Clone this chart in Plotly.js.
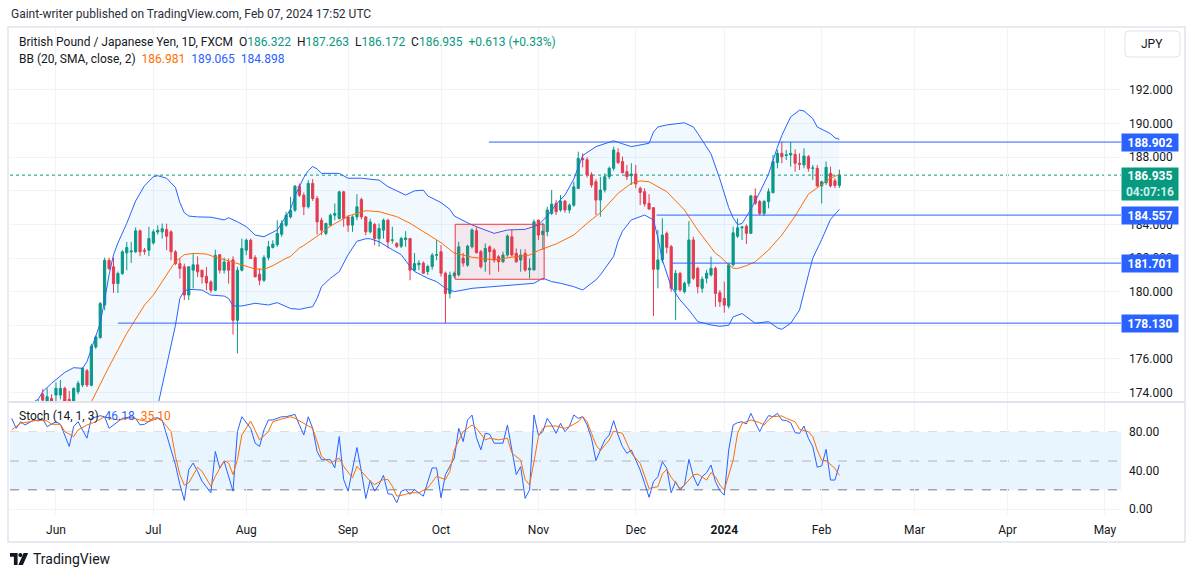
<!DOCTYPE html>
<html>
<head>
<meta charset="utf-8">
<script src="https://cdn.plot.ly/plotly-3.0.1.min.js"></script>
<style>
html,body{margin:0;padding:0;background:#ffffff;}
#chart{width:1195px;height:577px;}
</style>
</head>
<body>
<div id="chart"></div>
<script>
// ---------------- DATA ----------------
const firstBarDate = '2023-05-18';
const holidays = ['2023-12-25', '2024-01-01'];

const open = [
171.9,172.2,171.9,172.1,172.5,172.3,172.9,173.9,173.3,173.64,
173.85,173.85,174.25,173.6,173.5,174.05,174.45,175.3,174.43,176.71,
177.27,179.21,181.87,181.48,180.48,181.08,182.31,182.37,182.37,183.62,
182.47,182.47,182.9,183.55,183.56,183.7,183.56,182.37,181.67,181.48,
179.8,181.28,181.6,181.28,180.92,180.58,180.09,182.2,181.28,181.77,
181.9,178.3,181.28,182.47,183.06,182.03,181.04,180.68,182.03,182.63,
182.8,183.42,183.96,184.45,184.85,186.28,185.74,185.05,186.44,185.54,
184.25,183.46,183.96,184.55,184.35,185.94,184.45,183.96,184.45,185.48,
184.45,183.56,184.0,183.16,183.66,184.25,183.06,182.87,182.7,183.1,
183.16,181.28,181.6,181.7,181.2,181.5,182.17,182.38,181.1,179.9,
180.95,181.0,182.0,181.58,182.67,183.63,182.38,181.78,182.67,182.48,
182.08,181.78,182.18,183.27,182.28,181.88,182.28,181.3,181.29,184.26,
183.4,183.57,184.66,185.25,184.86,185.39,184.86,185.15,186.14,187.93,
187.85,186.96,186.54,185.45,186.05,186.84,187.34,188.27,187.74,187.14,
186.9,187.0,186.15,185.95,185.26,185.0,181.33,181.89,183.47,182.68,
180.1,181.09,180.0,180.5,183.08,181.39,180.2,180.8,181.0,181.39,
179.94,179.6,179.15,181.6,183.3,183.8,183.9,183.47,185.7,185.36,
184.66,185.36,185.89,187.68,188.23,188.1,188.13,188.17,187.64,187.54,
188.03,187.34,187.34,186.29,186.48,187.04,186.6,186.322];

const high = [
172.4,172.5,172.3,172.7,172.9,173.1,173.6,174.2,174.26,173.9,
174.6,174.75,174.35,174.1,174.3,174.7,175.5,175.4,176.9,177.4,
179.39,182.03,182.03,182.03,181.2,182.47,182.96,182.96,183.82,183.7,
182.6,183.86,183.7,183.95,184.05,184.05,183.66,182.47,181.97,181.67,
181.5,182.27,182.1,181.3,181.48,180.68,182.5,182.24,182.03,181.97,
182.1,181.48,183.16,183.16,183.16,182.17,181.38,182.17,183.02,183.06,
184.25,184.25,184.75,185.64,186.34,186.44,185.9,186.63,186.7,185.7,
184.4,184.1,184.65,185.25,186.0,186.0,184.55,184.55,185.8,185.6,
184.5,184.35,184.1,184.06,184.35,184.35,183.86,182.95,183.26,183.6,
183.2,182.3,181.87,181.8,181.6,182.3,183.06,182.77,181.2,181.19,
181.2,182.97,182.3,182.8,183.77,183.82,182.48,182.87,182.75,182.58,
182.18,182.38,183.41,183.71,182.58,182.52,182.52,181.98,184.3,184.26,
184.1,185.05,186.05,185.45,185.75,185.45,185.25,186.54,188.33,188.23,
188.0,187.1,186.7,186.84,187.04,187.44,188.63,188.53,188.04,187.54,
187.64,187.54,186.25,186.15,185.8,185.0,183.67,184.37,183.57,182.78,
181.29,181.19,180.6,184.2,183.27,181.49,180.9,181.3,182.09,181.49,
180.1,180.6,181.69,183.87,184.36,183.9,184.0,185.76,186.15,185.46,
185.46,186.15,188.13,188.43,188.92,188.43,188.92,188.47,188.23,188.53,
188.13,187.54,187.54,186.6,187.74,187.44,186.75,187.263];

const low = [
171.5,171.6,171.4,171.9,172.0,172.1,172.6,173.4,172.9,173.2,
173.4,173.6,173.4,173.3,173.4,173.9,174.33,174.33,174.37,176.6,
177.2,178.9,181.28,179.93,179.93,181.0,181.28,181.71,182.3,182.11,
182.2,182.11,182.8,183.4,183.16,182.47,181.87,181.58,180.78,179.5,
179.5,180.2,180.88,180.48,180.09,179.93,180.05,181.08,181.08,180.48,
177.45,176.33,181.2,182.17,181.97,180.88,180.38,180.58,181.87,182.57,
182.67,183.26,183.86,184.35,184.75,185.64,184.55,184.95,185.4,183.4,
183.36,183.36,183.9,184.25,184.3,183.86,183.56,183.56,184.25,184.3,
183.36,183.46,182.77,182.67,183.16,182.57,182.87,182.6,182.6,182.67,
180.68,181.2,181.28,181.08,181.0,181.3,181.87,180.9,178.13,179.6,
180.8,180.9,181.5,181.48,182.57,182.28,181.38,181.19,181.0,181.72,
181.19,181.72,182.08,182.08,181.72,181.19,181.19,180.79,181.29,183.07,
182.5,183.3,184.56,184.56,184.76,184.7,184.66,185.05,186.14,187.4,
186.8,186.2,184.56,184.46,185.9,186.7,187.2,187.6,187.04,186.64,
186.35,186.15,185.16,185.06,184.86,178.55,180.2,181.7,182.28,180.0,
178.32,180.0,179.9,180.3,180.7,179.9,179.94,180.5,180.9,179.1,
179.1,178.75,179.0,181.5,183.2,183.07,182.84,183.47,185.16,184.56,
184.5,184.96,185.85,187.34,187.64,187.83,187.44,187.14,187.24,187.34,
187.14,186.64,186.24,185.25,186.35,186.2,186.15,186.172];

const close = [
172.2,171.9,172.1,172.5,172.3,172.9,173.3,173.55,173.75,173.5,
174.25,174.25,173.5,173.48,174.25,174.55,175.44,174.45,176.75,177.31,
179.29,181.87,181.38,180.48,181.08,182.37,182.63,182.42,183.62,182.37,
182.41,183.16,183.56,183.65,183.75,183.3,182.37,181.67,181.38,179.8,
181.48,181.6,181.18,180.88,180.52,180.09,182.17,181.28,181.77,181.28,
178.3,181.28,182.57,183.06,181.97,180.88,180.68,182.03,182.67,182.83,
183.46,184.06,184.55,184.85,186.28,185.74,185.05,186.44,185.54,184.15,
183.66,184.06,184.55,184.65,185.94,184.35,183.96,184.45,185.05,184.45,
183.56,184.15,183.16,183.76,184.25,182.96,183.08,182.7,183.16,183.2,
181.28,181.67,181.7,181.1,181.5,182.17,182.2,181.1,179.9,180.99,
181.1,182.67,181.7,182.71,183.67,182.32,181.48,182.58,182.38,181.88,
181.78,182.18,183.31,182.18,181.78,182.18,181.29,181.4,184.16,183.37,
183.6,184.86,185.21,184.76,185.39,184.86,185.15,186.24,187.93,187.85,
186.94,186.34,185.45,186.05,186.84,187.34,188.43,187.68,187.08,186.84,
187.0,186.41,185.9,185.22,184.92,181.33,181.89,183.37,182.64,180.2,
181.09,180.1,180.5,183.08,180.8,180.3,180.74,181.1,181.39,179.9,
179.4,179.2,181.6,183.5,183.8,183.85,183.47,185.7,185.26,184.66,
185.36,185.95,187.74,188.23,188.03,188.14,188.23,187.64,187.58,188.07,
187.34,187.36,186.29,186.54,187.4,186.29,186.322,186.935];

// Bollinger Bands (20, SMA, close, 2) read at sampled bars
const upperBar = [0,4,6,7,9,12,14,16,17,18,20,21,22,23,24,26,28,30,32,33,35,37,38,39,40,42,45,48,49,51,53,55,57,60,62,63,64,66,67,68,69,70,74,76,79,83,85,89,91,93,94,97,99,100,104,109,112,116,119,121,123,125,127,129,132,135,136,138,140,144,145,146,148,152,154,155,157,158,160,161,162,163,164,165,167,169,171,173,174,176,178,179,181,182,184,185,186,187];
const upperVal = [173.0,173.3,173.6,174.05,174.55,175.2,175.48,175.44,175.84,176.6,178.12,179.5,181.0,182.2,182.9,184.07,185.4,186.3,186.84,186.9,186.75,186.2,185.3,184.7,184.5,184.45,184.43,184.27,184.4,184.16,183.87,183.37,183.27,183.67,184.5,184.9,185.7,186.8,187.2,187.45,187.3,187.04,187.04,186.75,186.75,186.64,186.25,185.75,186.0,186.04,185.7,185.3,184.9,184.5,183.97,183.47,183.67,183.71,183.97,184.5,185.2,185.75,186.7,188.1,188.63,188.92,188.98,188.8,188.63,188.83,189.5,189.8,189.92,190.05,189.8,189.42,188.6,188.2,186.7,185.9,185.0,184.4,184.0,184.05,184.9,185.9,187.0,188.6,189.3,190.4,190.8,190.75,190.3,189.8,189.55,189.4,189.15,189.065];
const midBar = [0,5,10,15,18,22,26,30,32,34,37,39,41,44,46,49,52,55,57,59,62,63,65,66,69,72,76,80,83,87,90,93,96,97,99,100,104,109,113,117,119,123,127,130,133,135,137,140,142,144,148,152,155,159,160,162,163,164,166,168,171,174,177,180,183,185,187];
const midVal = [172.3,172.6,172.9,173.2,173.44,175.54,177.52,179.2,179.8,180.6,181.8,182.2,182.28,182.24,182.05,181.84,181.59,181.35,181.33,181.55,181.99,182.1,182.6,182.75,183.3,183.9,184.5,184.82,184.76,184.46,184.07,183.57,183.08,182.92,182.5,182.3,182.05,181.89,182.05,182.18,182.45,182.84,183.37,184.07,184.7,185.3,185.85,186.45,186.59,186.54,185.95,184.86,183.67,182.28,182.1,181.6,181.4,181.38,181.55,181.78,182.48,183.37,184.5,185.8,186.4,186.75,186.981];
const lowerBar = [0,5,10,15,20,25,30,33,35,36,37,38,39,40,43,45,48,49,50,52,55,58,60,63,65,68,69,70,72,74,76,78,80,81,83,86,88,90,91,94,96,98,100,104,109,115,118,120,122,124,127,129,132,133,135,136,137,138,140,143,145,146,147,149,151,153,155,158,160,162,163,165,168,171,173,174,176,178,180,181,183,185,187];
const lowerVal = [170.8,171.0,171.3,171.8,171.5,171.0,171.8,173.2,175.6,176.9,178.0,179.6,180.05,180.14,180.1,179.8,179.74,179.6,179.15,179.15,179.31,179.21,179.35,179.0,178.95,179.11,179.6,180.3,180.8,181.19,182.2,183.0,183.15,183.15,182.97,182.5,182.2,181.5,181.2,180.8,180.6,180.2,180.0,180.2,180.3,180.4,180.5,180.8,180.6,180.5,180.3,180.1,180.7,181.0,181.7,182.1,183.0,183.6,184.27,184.56,184.27,183.2,181.89,180.3,179.51,178.91,178.22,178.02,177.94,178.0,178.5,178.7,178.12,178.22,177.85,177.76,178.12,178.91,181.0,182.0,183.1,184.3,184.898];

// Stochastic (14, 1, 3)
const kBar = [0,1,2,3,5,6,7,8,10,11,13,14,15,17,18,20,21,22,24,25,27,28,29,30,32,33,34,36,37,38,39,40,41,42,43,45,46,47,48,50,51,52,54,55,56,57,58,59,61,62,64,65,66,67,68,69,70,72,73,74,75,76,77,78,79,80,81,82,83,84,85,86,87,88,89,90,91,93,94,95,96,97,98,100,101,102,103,104,105,106,107,108,109,111,112,113,114,115,116,117,118,119,120,121,122,123,124,125,126,127,128,129,130,131,132,133,134,135,136,137,138,139,140,141,142,143,144,145,146,147,148,149,150,151,152,153,154,155,156,157,158,159,160,161,162,163,164,165,166,167,168,169,170,171,172,173,174,175,176,177,178,179,180,181,182,183,184,185,186,187];
const kVal = [94.5,84.1,91,87.6,92.8,91.7,93.8,85.9,91,88.3,65.2,85.9,91,73.8,94.5,97.2,96.2,84.1,91,94.5,96.2,94.5,87.6,88.3,94.5,95.2,92.8,60,46.2,25.5,9,41,47.9,39.3,29,16.9,60,42.8,49.7,18.6,80.7,96.2,84.1,68.6,65.2,82.4,92.8,92.8,96.2,96.2,98.6,87.6,77.2,96.2,84.1,60,51.4,51.4,42.8,75.5,30.7,18.6,41,64.1,39.3,11,29.7,18.6,25.5,35.2,15.9,15.2,6.6,18.6,20.3,15.2,20.3,13.4,28.3,42.8,42.8,11.7,35.9,53.1,84.1,70.3,92.8,97.9,74.5,61.7,79,77.9,68.6,68.6,87.6,63.4,35.9,44.2,11.1,19.8,98,77.1,80.6,94.5,87.6,78.9,89.3,80.6,85.9,98,94.5,96.3,87.6,73.7,50.4,61.5,71.9,77.1,92.1,77.1,65,58,61.5,51,40.6,26.7,12.2,28.5,33.7,49.3,42.4,17,28.5,19.8,25,51.7,34.4,24,33.7,37.9,45.9,28.5,19.1,14.6,61.5,87.6,90,91,88.6,99.7,90,80.6,90,97.3,96.3,99.7,92.8,92.1,90,79.6,78.9,86.5,73.7,65,43.5,44.9,62.2,30.2,30.2,46.18];
const dBar = [0,1,2,4,6,8,9,11,12,14,15,17,19,21,22,24,26,27,29,31,33,34,36,37,38,39,40,42,43,45,46,48,49,50,51,52,54,55,56,58,59,61,63,64,66,68,69,70,72,74,75,77,78,79,81,82,84,85,86,87,89,90,92,94,96,98,99,100,102,104,105,107,108,110,112,113,115,116,117,118,119,120,121,123,125,126,128,129,130,131,132,133,135,136,138,139,140,142,143,144,146,147,148,149,151,152,154,155,157,158,159,160,161,163,164,165,167,169,170,171,172,174,175,177,178,180,181,182,183,184,186,187];
const dVal = [82.4,85.9,89.3,91,92.8,91.7,88.3,88.3,80.7,75.5,82.4,87.6,91,96.2,94.5,92.8,94.5,95.2,92.8,91,94.5,91.7,80.7,54.8,35.9,24.8,27.2,43.4,39.3,23.8,34.1,50.3,47.9,35.9,51.4,77.2,91.7,82.4,72.1,80.7,91,93.8,96.2,94.5,89.3,84.1,70.3,54.8,47.9,53.1,44.5,32.4,44.5,39.3,29,25.5,30.7,30.7,23.8,13.4,15.2,16.9,16.9,22.1,34.1,30.7,39.3,61.7,80.7,87.6,84.1,72.1,73.8,72.1,73.8,58.3,51,30.9,25,49.3,75.4,84.1,86.5,86.5,84.1,85.9,91,96.3,91,78.9,66.8,60.9,71.9,81.3,78.9,68.4,58,47.6,33.7,21.5,23.3,36.5,41.4,33,21.5,25,35.4,36.5,30.2,37.9,33.7,25,19.8,51,78.9,89.3,92.8,90,87.6,92.8,96.3,97,94.5,91,83.1,80.6,75.4,61.5,51,50.4,42.4,35.1];

// Drawings on the chart
const levelPrices = [188.902, 184.557, 181.701, 178.130];
const levelStartBar = [107.8, 145.7, 149.2, 24];
const boxBars = [100.2, 120.3];
const boxPrices = [180.74, 184.01];
const countdown = '04:07:16';

// Axis labels
const monthTickDates = ['2023-06-01','2023-07-03','2023-08-01','2023-09-01','2023-10-02','2023-11-01','2023-12-01','2024-01-02','2024-02-01','2024-03-01','2024-04-01','2024-05-01'];
const monthLabels = ['Jun','Jul','Aug','Sep','Oct','Nov','Dec','<b>2024</b>','Feb','Mar','Apr','May'];
const priceTicks = [174,176,178,180,182,184,186,188,190,192];
const hiddenPriceTicks = [178,186];   // fully covered by price labels in the reference
const stochTicks = [0,40,80];
const stochBands = [80, 50, 20];

// ---------------- BUILD ----------------
const days = [];
(function(){
  const p = firstBarDate.split('-').map(Number);
  for (let t = Date.UTC(p[0], p[1]-1, p[2]); days.length < 270; t += 86400000) {
    const d = new Date(t), wd = d.getUTCDay(), s = d.toISOString().slice(0,10);
    if (wd === 0 || wd === 6 || holidays.includes(s)) continue;
    days.push(s);
  }
})();
const barX = close.map((_, i) => i);
const monthTickBars = monthTickDates.map(d => days.indexOf(d));

const FONT = 'Roboto, "Open Sans", "Liberation Sans", sans-serif';
const TXT = '#131722';
const GREEN = '#089981', RED = '#f23645', BLUE = '#2962ff', ORANGE = '#ff6d00';

const plotL = 10, plotR = 1121, plotT = 28, plotB = 514;
const px = x => (x - plotL) / (plotR - plotL);
const py = y => (plotB - y) / (plotB - plotT);
const xMin = -0.384, xMax = 250.63;

const last = close.length - 1;

const traces = [];
traces.push({type:'scatter', mode:'lines', x: lowerBar, y: lowerVal, xaxis:'x', yaxis:'y',
  line:{color:BLUE, width:1}, hoverinfo:'skip'});
traces.push({type:'scatter', mode:'lines', x: upperBar, y: upperVal, xaxis:'x', yaxis:'y',
  line:{color:BLUE, width:1}, fill:'tonexty', fillcolor:'rgba(33,150,243,0.06)', hoverinfo:'skip'});
traces.push({type:'scatter', mode:'lines', x: midBar, y: midVal, xaxis:'x', yaxis:'y',
  line:{color:ORANGE, width:1}, hoverinfo:'skip'});
traces.push({type:'candlestick', x: barX, open: open, high: high, low: low, close: close,
  text: days.slice(0, close.length), xaxis:'x', yaxis:'y', whiskerwidth:0,
  increasing:{line:{color:GREEN, width:1}, fillcolor:GREEN},
  decreasing:{line:{color:RED, width:1}, fillcolor:RED}, hoverinfo:'skip'});
const lx = [], ly = [];
levelPrices.forEach((p, k) => { lx.push(levelStartBar[k], xMax + 5, null); ly.push(p, p, null); });
traces.push({type:'scatter', mode:'lines', x: lx, y: ly, xaxis:'x', yaxis:'y',
  line:{color:BLUE, width:1}, hoverinfo:'skip'});
traces.push({type:'scatter', mode:'lines', x: kBar, y: kVal, xaxis:'x', yaxis:'y2',
  line:{color:BLUE, width:1}, hoverinfo:'skip'});
traces.push({type:'scatter', mode:'lines', x: dBar, y: dVal, xaxis:'x', yaxis:'y2',
  line:{color:ORANGE, width:1}, hoverinfo:'skip'});

const shapes = [];
shapes.push({type:'rect', xref:'paper', yref:'y2', x0:0, x1:1, y0:stochBands[2], y1:stochBands[0],
  fillcolor:'rgba(33,150,243,0.1)', line:{width:0}, layer:'below'});
stochBands.forEach((v, k) => shapes.push({type:'line', xref:'paper', yref:'y2', x0:0, x1:1, y0:v, y1:v,
  line:{color: k === 1 ? '#b2b5be' : '#787b86', width:1, dash:'dash'}, layer:'below'}));
shapes.push({type:'line', xref:'paper', yref:'y', x0:0, x1:1, y0:close[last], y1:close[last],
  line:{color:GREEN, width:1, dash:'dot'}, layer:'below'});
shapes.push({type:'rect', xref:'x', yref:'y', x0:boxBars[0], x1:boxBars[1], y0:boxPrices[0], y1:boxPrices[1],
  fillcolor:'rgba(242,54,69,0.09)', line:{color:RED, width:1}, layer:'above'});
shapes.push({type:'rect', xref:'paper', yref:'paper', x0:px(8), x1:px(1185), y0:py(542), y1:py(27),
  line:{color:'#e0e3eb', width:1.5}, fillcolor:'rgba(0,0,0,0)', layer:'above'});
shapes.push({type:'line', xref:'paper', yref:'paper', x0:px(8), x1:px(1185), y0:py(402), y1:py(402),
  line:{color:'#e0e3eb', width:2}, layer:'above'});
shapes.push({type:'path', xref:'paper', yref:'paper', xsizemode:'pixel', ysizemode:'pixel',
  xanchor:px(1125), yanchor:py(57),
  path:'M4,0 L51,0 Q55,0 55,4 L55,22 Q55,26 51,26 L4,26 Q0,26 0,22 L0,4 Q0,0 4,0 Z',
  line:{color:'#e0e3eb', width:1}, fillcolor:'#ffffff', layer:'above'});
const logoBase = {xref:'paper', yref:'paper', xsizemode:'pixel', ysizemode:'pixel', xanchor:px(10), yanchor:py(565),
  fillcolor:TXT, line:{width:0}, layer:'above'};
shapes.push(Object.assign({type:'path', path:'M0,12 L7.6,12 L7.6,0 L3.9,0 L3.9,8.2 L0,8.2 Z'}, logoBase));
shapes.push(Object.assign({type:'circle', x0:8.3, x1:12.5, y0:7.8, y1:12}, logoBase));
shapes.push(Object.assign({type:'path', path:'M13.6,12 L18.2,12 L12.9,0 L8.4,0 Z'}, logoBase));

const span = (c, s) => `<span style="color:${c}">${s}</span>`;
const sp = '&nbsp;&nbsp;';
const chg = close[last] - close[last-1];
const pct = chg / close[last-1] * 100;
const sgn = v => (v >= 0 ? '+' : '');
const line1 = 'British Pound / Japanese Yen, 1D, FXCM' + sp +
  'O' + span(GREEN, open[last].toFixed(3)) + sp +
  'H' + span(GREEN, high[last].toFixed(3)) + sp +
  'L' + span(GREEN, low[last].toFixed(3)) + sp +
  'C' + span(GREEN, close[last].toFixed(3)) + sp +
  span(GREEN, sgn(chg) + chg.toFixed(3) + ' (' + sgn(pct) + pct.toFixed(2) + '%)');
const line2 = 'BB (20, SMA, close, 2)' + sp + span(ORANGE, midVal[midVal.length-1].toFixed(3)) + sp +
  span(BLUE, upperVal[upperVal.length-1].toFixed(3)) + sp + span(BLUE, lowerVal[lowerVal.length-1].toFixed(3));
const line3 = 'Stoch (14, 1, 3)' + sp + span(BLUE, kVal[kVal.length-1].toFixed(2)) + sp +
  span(ORANGE, dVal[dVal.length-1].toFixed(2));

const ann = [];
const textAnn = (x, y, text, size, extra) => Object.assign({xref:'paper', yref:'paper', x:px(x), y:py(y),
  xanchor:'left', yanchor:'middle', showarrow:false, text:text, font:{family:FONT, size:size, color:TXT}}, extra || {});
ann.push(textAnn(9, 14, 'Gaint-writer published on TradingView.com, Feb 07, 2024 17:52 UTC', 12, {font:{family:FONT, size:12, color:'#2a2e39'}}));
ann.push(textAnn(17, 42, line1, 12));
ann.push(textAnn(17, 59, line2, 12));
ann.push(textAnn(17, 416, line3, 12));
ann.push(textAnn(1152, 44, 'JPY', 12, {xanchor:'center'}));
ann.push(textAnn(31, 559, 'TradingView', 14));
levelPrices.forEach(p => ann.push({xref:'paper', yref:'y', x:1, y:p, xanchor:'left', yanchor:'middle',
  showarrow:false, text:'<b>' + p.toFixed(3) + '</b>', bgcolor:BLUE, borderpad:2, width:52, height:13,
  font:{family:FONT, size:12, color:'#ffffff'}}));
ann.push({xref:'paper', yref:'y', x:1, y:close[last], xanchor:'left', yanchor:'top', yshift:8.5,
  showarrow:false, text:'<b>' + close[last].toFixed(3) + '</b><br><b>' + span('#cdeee8', countdown) + '</b>',
  bgcolor:GREEN, borderpad:2, width:52, height:28, font:{family:FONT, size:12, color:'#ffffff'}});

const layout = {
  width:1195, height:577,
  margin:{l:plotL, r:1195-plotR, t:plotT, b:577-plotB, pad:0},
  paper_bgcolor:'#ffffff', plot_bgcolor:'#ffffff',
  showlegend:false,
  font:{family:FONT, size:12, color:TXT},
  xaxis:{domain:[0,1], anchor:'y2', range:[xMin, xMax], tickmode:'array', tickvals:monthTickBars, ticktext:monthLabels,
    showgrid:true, gridcolor:'#f0f3fa', gridwidth:1, zeroline:false, showline:false, ticks:'',
    tickfont:{family:FONT, size:12, color:TXT}, ticklabelstandoff:7, rangeslider:{visible:false}, fixedrange:true},
  yaxis:{domain:[py(401), 1], anchor:'x', side:'right', range:[173.498, 195.687], tickmode:'array',
    tickvals:priceTicks, ticktext:priceTicks.map(v => hiddenPriceTicks.includes(v) ? '' : v.toFixed(3)), showgrid:true, gridcolor:'#f0f3fa',
    zeroline:false, showline:false, ticks:'', tickfont:{family:FONT, size:12, color:TXT}, ticklabelstandoff:7, fixedrange:true},
  yaxis2:{domain:[0, py(403)], anchor:'x', side:'right', range:[-5.2, 110.5], tickmode:'array',
    tickvals:stochTicks, ticktext:stochTicks.map(v => v.toFixed(2)), showgrid:true, gridcolor:'#f0f3fa',
    zeroline:false, showline:false, ticks:'', tickfont:{family:FONT, size:12, color:TXT}, ticklabelstandoff:7, fixedrange:true},
  shapes:shapes,
  annotations:ann
};

Plotly.newPlot('chart', traces, layout, {staticPlot:true, displayModeBar:false});
</script>
</body>
</html>
